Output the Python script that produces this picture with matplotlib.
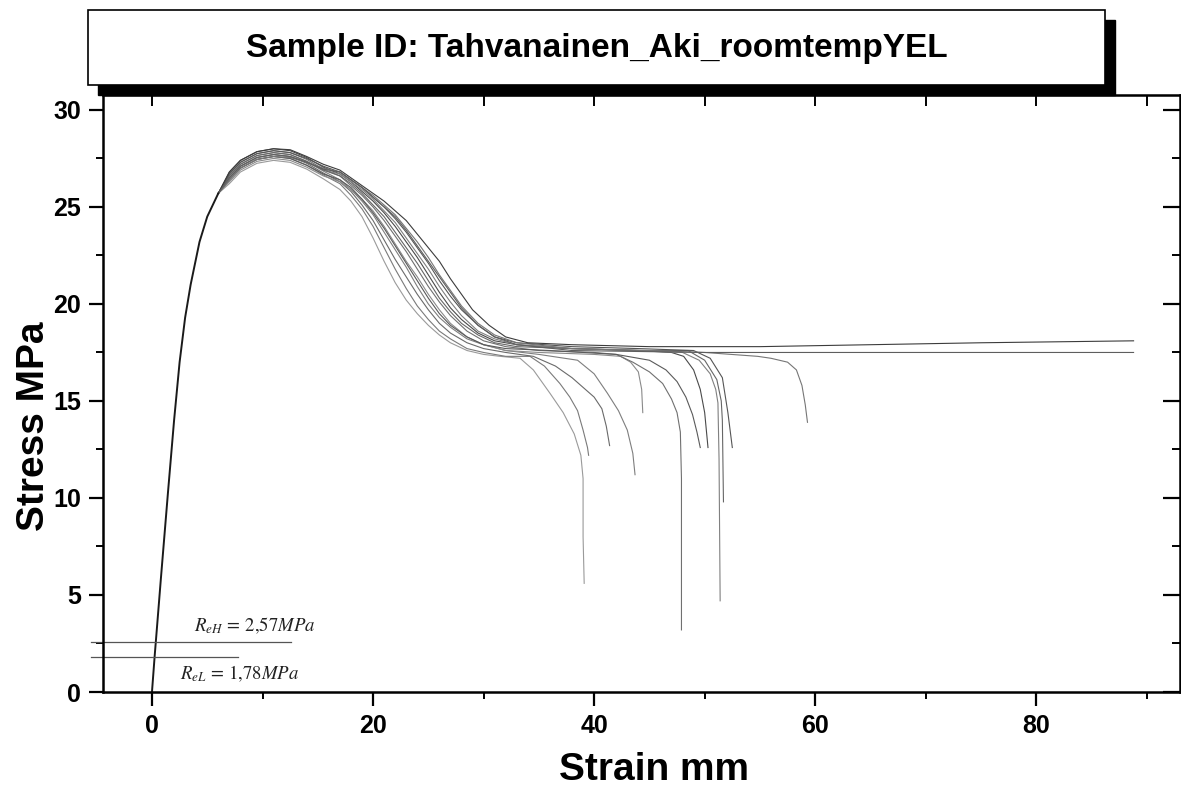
import matplotlib
matplotlib.use("Agg")
import matplotlib.pyplot as plt
from matplotlib.patches import Rectangle
from matplotlib.ticker import MultipleLocator

# shared elastic / loading branch (all specimens overlap here)
load_strain = [0.0, 0.25, 0.35, 0.8, 1.45, 2.0, 2.5, 3.0, 3.5, 4.3, 5.0, 6.0]
load_stress = [0.0, 1.9, 2.6, 5.8, 10.3, 14.0, 17.0, 19.3, 21.0, 23.2, 24.5, 25.7]

# individual specimens
a_strain = [7.0, 8.0, 9.5, 11.0, 12.5, 14.0, 15.5, 17.0, 18.0, 19.0, 20.0, 21.0, 22.0, 23.0, 24.0,
            25.0, 26.0, 27.0, 28.5, 30.0, 31.5, 33.3, 34.5, 36.0, 37.2, 38.2, 38.8, 39.0, 39.0, 39.1]
a_stress = [26.2, 26.8, 27.25, 27.4, 27.3, 26.95, 26.45, 25.9, 25.3, 24.5, 23.4, 22.2, 21.1, 20.2, 19.5,
            18.9, 18.4, 18.0, 17.6, 17.4, 17.3, 17.2, 16.6, 15.4, 14.4, 13.3, 12.2, 11.0, 8.0, 5.6]

b_strain = [7.0, 8.0, 9.5, 11.0, 12.5, 14.0, 15.5, 17.0, 18.0, 19.0, 20.0, 21.0, 22.0, 23.0, 24.0,
            25.0, 26.0, 27.0, 28.5, 30.0, 32.0, 34.2, 35.5, 36.9, 37.8, 38.5, 39.0, 39.4, 39.5]
b_stress = [26.4, 27.0, 27.45, 27.6, 27.5, 27.15, 26.65, 26.2, 25.6, 24.9, 24.0, 22.9, 21.8, 20.8, 19.9,
            19.2, 18.6, 18.2, 17.7, 17.5, 17.3, 17.3, 16.8, 15.9, 15.2, 14.5, 13.5, 12.6, 12.2]

c_strain = [7.0, 8.0, 9.5, 11.0, 12.5, 14.0, 15.5, 17.0, 18.0, 19.0, 20.0, 21.0, 22.0, 23.0, 24.0,
            25.0, 26.0, 27.0, 28.5, 30.0, 32.0, 34.5, 36.5, 38.0, 39.0, 40.0, 40.7, 41.1, 41.4]
c_stress = [26.5, 27.1, 27.55, 27.7, 27.6, 27.25, 26.75, 26.3, 25.8, 25.1, 24.3, 23.3, 22.3, 21.4, 20.5,
            19.7, 19.0, 18.5, 18.0, 17.7, 17.5, 17.3, 16.8, 16.2, 15.7, 15.2, 14.6, 13.7, 12.7]

d_strain = [7.0, 8.0, 9.5, 11.0, 12.5, 14.0, 15.5, 17.0, 18.0, 19.0, 20.0, 21.0, 22.0, 23.0, 24.0,
            25.0, 26.0, 27.0, 28.5, 30.0, 32.0, 35.0, 38.5, 40.0, 41.2, 42.2, 43.0, 43.5, 43.7]
d_stress = [26.6, 27.2, 27.65, 27.8, 27.7, 27.35, 26.85, 26.4, 25.9, 25.3, 24.6, 23.7, 22.8, 21.9, 20.9,
            20.0, 19.3, 18.8, 18.2, 17.9, 17.6, 17.4, 17.1, 16.4, 15.4, 14.5, 13.5, 12.3, 11.2]

e_strain = [7.0, 8.0, 9.5, 11.0, 12.5, 14.0, 15.5, 17.0, 18.0, 19.0, 20.0, 21.0, 22.0, 23.0, 24.0,
            25.0, 26.0, 27.0, 28.5, 30.0, 32.0, 35.0, 40.0, 42.4, 43.3, 44.0, 44.3, 44.4]
e_stress = [26.3, 26.9, 27.35, 27.5, 27.4, 27.05, 26.6, 26.3, 25.9, 25.4, 24.8, 24.0, 23.1, 22.2, 21.4,
            20.5, 19.7, 19.0, 18.3, 17.9, 17.6, 17.5, 17.4, 17.3, 17.0, 16.5, 15.6, 14.4]

f_strain = [7.0, 8.0, 9.5, 11.0, 12.5, 14.0, 15.5, 17.0, 18.0, 19.0, 20.0, 21.0, 22.0, 23.0, 24.0,
            25.0, 26.0, 27.0, 28.5, 30.0, 32.0, 35.0, 40.0, 42.0, 43.5, 45.0, 46.2, 47.0, 47.5, 47.8,
            47.9, 47.9]
f_stress = [26.7, 27.3, 27.75, 27.9, 27.8, 27.45, 26.95, 26.6, 26.1, 25.6, 25.0, 24.3, 23.5, 22.7, 21.8,
            20.9, 20.1, 19.4, 18.6, 18.1, 17.8, 17.6, 17.5, 17.4, 17.0, 16.5, 15.9, 15.1, 14.4, 13.4,
            11.0, 3.2]

g_strain = [7.0, 8.0, 9.5, 11.0, 12.5, 14.0, 15.5, 17.0, 18.0, 19.0, 20.0, 21.0, 22.0, 23.0, 24.0,
            25.0, 26.0, 27.0, 28.5, 30.0, 32.0, 36.0, 42.0, 45.0, 46.5, 47.5, 48.3, 48.9, 49.3, 49.6]
g_stress = [26.4, 27.0, 27.45, 27.6, 27.5, 27.15, 26.7, 26.4, 26.0, 25.4, 24.7, 23.9, 23.0, 22.1, 21.2,
            20.3, 19.5, 18.9, 18.3, 17.9, 17.7, 17.6, 17.4, 17.1, 16.6, 16.0, 15.2, 14.3, 13.4, 12.6]

h_strain = [7.0, 8.0, 9.5, 11.0, 12.5, 14.0, 15.5, 17.0, 18.0, 19.0, 20.0, 21.0, 22.0, 23.0, 24.0,
            25.0, 26.0, 27.0, 28.0, 29.5, 31.0, 33.0, 38.0, 44.0, 47.0, 48.1, 49.0, 49.6, 50.0, 50.3]
h_stress = [26.8, 27.4, 27.85, 28.0, 27.9, 27.55, 27.05, 26.7, 26.3, 25.8, 25.3, 24.7, 24.0, 23.2, 22.4,
            21.5, 20.6, 19.8, 19.2, 18.5, 18.1, 17.9, 17.7, 17.6, 17.5, 17.3, 16.6, 15.6, 14.4, 12.6]

i_strain = [7.0, 8.0, 9.5, 11.0, 12.5, 14.0, 15.5, 17.0, 18.0, 19.0, 20.0, 21.0, 22.0, 23.0, 24.0,
            25.0, 26.0, 27.0, 28.0, 29.5, 31.0, 33.0, 38.0, 44.0, 48.0, 49.5, 50.5, 51.0, 51.2, 51.3, 51.4]
i_stress = [26.5, 27.1, 27.55, 27.7, 27.6, 27.3, 26.9, 26.7, 26.3, 25.9, 25.4, 24.8, 24.2, 23.4, 22.6,
            21.8, 20.9, 20.1, 19.4, 18.6, 18.2, 17.9, 17.7, 17.6, 17.5, 17.1, 16.4, 15.6, 14.9, 12.0, 4.7]

j_strain = [7.0, 8.0, 9.5, 11.0, 12.5, 14.0, 15.5, 17.0, 18.0, 19.0, 20.0, 21.0, 22.0, 23.0, 24.0,
            25.0, 26.0, 27.0, 28.0, 29.5, 31.0, 33.0, 38.0, 44.0, 48.5, 50.0, 51.1, 51.5, 51.6, 51.7]
j_stress = [26.6, 27.2, 27.65, 27.8, 27.7, 27.35, 26.9, 26.6, 26.2, 25.7, 25.1, 24.5, 23.7, 22.9, 22.1,
            21.2, 20.3, 19.6, 19.0, 18.4, 18.0, 17.8, 17.7, 17.6, 17.6, 17.1, 16.1, 15.0, 14.0, 9.8]

k_strain = [7.0, 8.0, 9.5, 11.0, 12.5, 14.0, 15.5, 17.0, 18.0, 19.0, 20.0, 21.0, 22.0, 23.0, 24.0,
            25.0, 26.0, 27.0, 28.0, 29.5, 31.0, 33.0, 38.0, 44.0, 49.0, 50.5, 51.6, 52.1, 52.5]
k_stress = [26.7, 27.3, 27.75, 27.9, 27.8, 27.5, 27.1, 26.8, 26.4, 26.0, 25.5, 25.0, 24.4, 23.7, 22.9,
            22.1, 21.2, 20.4, 19.7, 18.9, 18.3, 18.0, 17.8, 17.7, 17.6, 17.2, 16.2, 14.4, 12.6]

l_strain = [7.0, 8.0, 9.5, 11.0, 12.5, 14.0, 15.5, 17.0, 18.0, 19.0, 20.0, 21.0, 22.0, 23.0, 24.0,
            25.0, 26.0, 27.0, 28.0, 29.5, 31.0, 33.0, 38.0, 45.0, 50.0, 54.8, 56.0, 57.5, 58.3, 58.8,
            59.1, 59.3]
l_stress = [26.4, 27.0, 27.45, 27.6, 27.55, 27.3, 27.0, 26.8, 26.4, 26.0, 25.6, 25.1, 24.6, 23.9, 23.2,
            22.4, 21.5, 20.7, 19.9, 19.0, 18.4, 18.0, 17.7, 17.6, 17.5, 17.3, 17.2, 17.0, 16.6, 15.8,
            14.8, 13.9]

m_strain = [7.0, 8.0, 9.5, 11.0, 12.5, 14.0, 15.5, 17.0, 18.0, 19.0, 20.0, 21.0, 22.0, 23.0, 24.0,
            25.0, 26.0, 27.0, 28.0, 29.0, 30.5, 32.0, 34.0, 38.0, 45.0, 55.0, 65.0, 75.0, 88.8]
m_stress = [26.8, 27.4, 27.85, 28.0, 27.95, 27.6, 27.2, 26.9, 26.5, 26.1, 25.7, 25.3, 24.8, 24.3, 23.6,
            22.9, 22.2, 21.3, 20.5, 19.7, 18.9, 18.3, 18.0, 17.9, 17.8, 17.8, 17.9, 18.0, 18.1]

n_strain = [7.0, 8.0, 9.5, 11.0, 12.5, 14.0, 15.5, 17.0, 18.0, 19.0, 20.0, 21.0, 22.0, 23.0, 24.0,
            25.0, 26.0, 27.0, 28.0, 29.5, 31.0, 33.0, 38.0, 50.0, 70.0, 88.8]
n_stress = [26.5, 27.1, 27.55, 27.7, 27.6, 27.3, 26.95, 26.8, 26.4, 26.0, 25.5, 25.0, 24.5, 23.8, 23.0,
            22.2, 21.4, 20.6, 19.8, 18.9, 18.3, 17.9, 17.6, 17.5, 17.5, 17.5]

# yield limits
reh_value = 2.57
rel_value = 1.78

title = "Sample ID: Tahvanainen_Aki_roomtempYEL"

specimens = [
    (a_strain, a_stress, "#9a9a9a"),
    (b_strain, b_stress, "#7a7a7a"),
    (c_strain, c_stress, "#6a6a6a"),
    (d_strain, d_stress, "#7e7e7e"),
    (e_strain, e_stress, "#8a8a8a"),
    (f_strain, f_stress, "#707070"),
    (g_strain, g_stress, "#5a5a5a"),
    (h_strain, h_stress, "#4a4a4a"),
    (i_strain, i_stress, "#808080"),
    (j_strain, j_stress, "#666666"),
    (k_strain, k_stress, "#555555"),
    (l_strain, l_stress, "#767676"),
    (m_strain, m_stress, "#3c3c3c"),
    (n_strain, n_stress, "#5e5e5e"),
]

plt.rcParams["font.family"] = ["Liberation Sans", "DejaVu Sans"]
plt.rcParams["mathtext.fontset"] = "stix"

W, H = 1181, 796
fig = plt.figure(figsize=(W / 100, H / 100), dpi=100)
ax = fig.add_axes([103 / W, (H - 692) / H, (1180 - 103) / W, (692 - 95) / H])

for xs, ys, col in specimens:
    ax.plot(load_strain[-1:] + xs, load_stress[-1:] + ys, color=col, lw=0.8,
            solid_joinstyle="round")
# the loading branch is common to all specimens and reads as one dark line
ax.plot(load_strain, load_stress, color="#1a1a1a", lw=1.4, solid_joinstyle="round")

# ReH / ReL marker lines
ax.plot([-5.5, 12.6], [reh_value, reh_value], color="#555555", lw=0.9, clip_on=False)
ax.plot([-5.5, 7.8], [rel_value, rel_value], color="#555555", lw=0.9, clip_on=False)
ax.text(3.8, 3.4, r"$R_{eH}\,=\,2{,}57MPa$", fontsize=13.5, color="#222222", va="center")
ax.text(2.5, 0.95, r"$R_{eL}\,=\,1{,}78MPa$", fontsize=13.5, color="#222222", va="center")

ax.set_xlim(-4.43, 93.0)
ax.set_ylim(0, 30.77)

ax.xaxis.set_major_locator(MultipleLocator(20))
ax.xaxis.set_minor_locator(MultipleLocator(10))
ax.yaxis.set_major_locator(MultipleLocator(5))
ax.yaxis.set_minor_locator(MultipleLocator(2.5))
ax.tick_params(which="major", direction="out", length=10, width=1.6, labelsize=18, pad=6)
ax.tick_params(which="minor", direction="out", length=5, width=1.4)
for lab in ax.get_xticklabels() + ax.get_yticklabels():
    lab.set_fontweight("bold")

# top and right: inward ticks, no labels
top = ax.secondary_xaxis("top")
top.xaxis.set_major_locator(MultipleLocator(10))
top.tick_params(direction="in", length=8, width=1.4, labeltop=False)
right = ax.secondary_yaxis("right")
right.yaxis.set_major_locator(MultipleLocator(5))
right.yaxis.set_minor_locator(MultipleLocator(2.5))
right.tick_params(which="major", direction="in", length=12, width=1.6, labelright=False)
right.tick_params(which="minor", direction="in", length=6, width=1.4)
for s in ax.spines.values():
    s.set_linewidth(1.8)

ax.set_xlabel("Strain mm", fontsize=28, fontweight="bold")
ax.set_ylabel("Stress MPa", fontsize=28, fontweight="bold")
ax.xaxis.set_label_coords(0.512, -0.10)
ax.yaxis.set_label_coords(-0.047, 0.445)

# title box with drop shadow
fig.add_artist(Rectangle((98 / W, (H - 95) / H), (1105 - 88) / W, 75 / H,
                         transform=fig.transFigure, facecolor="black", edgecolor="black", zorder=5))
fig.add_artist(Rectangle((88 / W, (H - 85) / H), (1105 - 88) / W, 75 / H,
                         transform=fig.transFigure, facecolor="white", edgecolor="black",
                         lw=1.2, zorder=6))
fig.text(597 / W, (H - 48) / H, title, fontsize=24, fontweight="bold",
         ha="center", va="center", zorder=7)

fig.savefig("out.png", dpi=100)
